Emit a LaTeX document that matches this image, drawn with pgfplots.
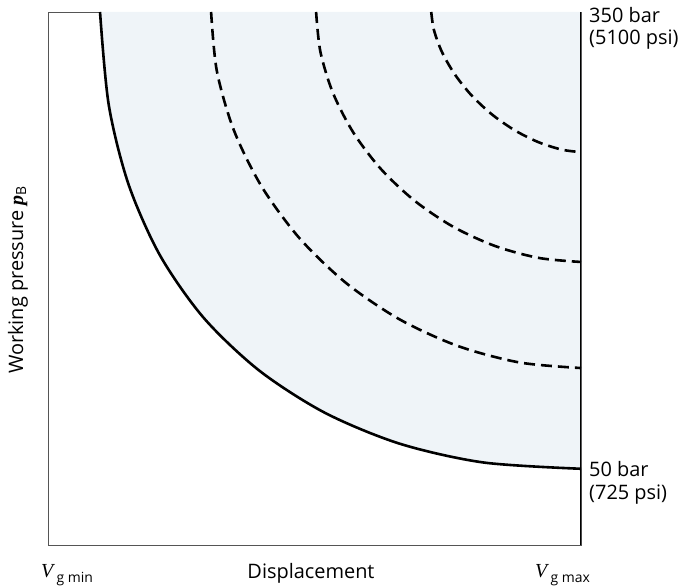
\documentclass[border=0pt]{standalone}
\usepackage{pgfplots}
\pgfplotsset{compat=1.18}
\usepgfplotslibrary{fillbetween}
\usepackage{fontspec}
\setmainfont{Open Sans}
\newfontfamily\serif{Liberation Serif}
\definecolor{areafill}{RGB}{239,244,248}
\definecolor{framegray}{RGB}{85,85,85}

\begin{document}
\begin{tikzpicture}[x=1bp,y=1bp]
\begin{axis}[
    scale only axis,
    width=533bp, height=533bp,
    xmin=0, xmax=100, ymin=0, ymax=100,
    xtick=\empty, ytick=\empty,
    axis line style={framegray, line width=0.8pt},
    curve/.style={black, line width=2.6bp, smooth},
    dashcurve/.style={curve, dash pattern=on 11bp off 6bp},
  ]
  % power limit (solid)
  \addplot[name path=solid, curve] coordinates {
    (9.76,100) (11.4,82.55) (15.1,67.69) (21.0,54.36) (29.18,42.65)
    (39.61,32.74) (51.94,24.81) (65.97,19.01) (81.63,15.49) (100,14.3)};
  \addplot[name path=topline, draw=none] coordinates {(9.76,100) (100,100)};
  \addplot[areafill] fill between[of=solid and topline];

  % further power curves (dashed)
  \addplot[dashcurve] coordinates {
    (30.6,100) (31.68,88.91) (34.89,77.77) (40.12,67.19) (47.20,57.54)
    (55.89,49.18) (65.91,42.36) (76.91,37.33) (88.48,34.24) (100,33.2)};
  \addplot[dashcurve] coordinates {
    (50.3,100) (51.10,92.57) (53.45,84.84) (57.28,77.39) (62.46,70.54)
    (68.79,64.58) (76.04,59.69) (83.94,56.07) (92.13,53.85) (100,53.1)};
  \addplot[dashcurve] coordinates {
    (71.9,100) (72.40,96.65) (73.88,92.56) (76.28,88.36) (79.46,84.36)
    (83.29,80.78) (87.57,77.80) (92.05,75.56) (96.42,74.17) (100,73.7)};

  % right edge
  \addplot[black, line width=3bp] coordinates {(100,0) (100,100)};
\end{axis}

\fontsize{20}{24}\selectfont
\node[anchor=base west, inner sep=0] at (541,522) {350 bar};
\node[anchor=base west, inner sep=0] at (541,500) {(5100 psi)};
\node[anchor=base west, inner sep=0] at (541,68) {50 bar};
\node[anchor=base west, inner sep=0] at (541,45) {(725 psi)};
\node[anchor=base, inner sep=0] at (263,-34) {Displacement};
\node[anchor=base west, inner sep=0] at (-7,-33)
  {{\serif\itshape V}\,\raisebox{-5bp}{\fontsize{14}{14}\selectfont g min}};
\node[anchor=base west, inner sep=0] at (487,-33)
  {{\serif\itshape V}\,\raisebox{-5bp}{\fontsize{14}{14}\selectfont g max}};
\node[rotate=90, anchor=base, inner sep=0] at (-25,265)
  {Working pressure {\serif\bfseries\itshape p}\raisebox{-3bp}{\fontsize{14}{14}\selectfont B}};
\pgfresetboundingbox
\useasboundingbox (-48,-42) rectangle (643,545);
\end{tikzpicture}
\end{document}
